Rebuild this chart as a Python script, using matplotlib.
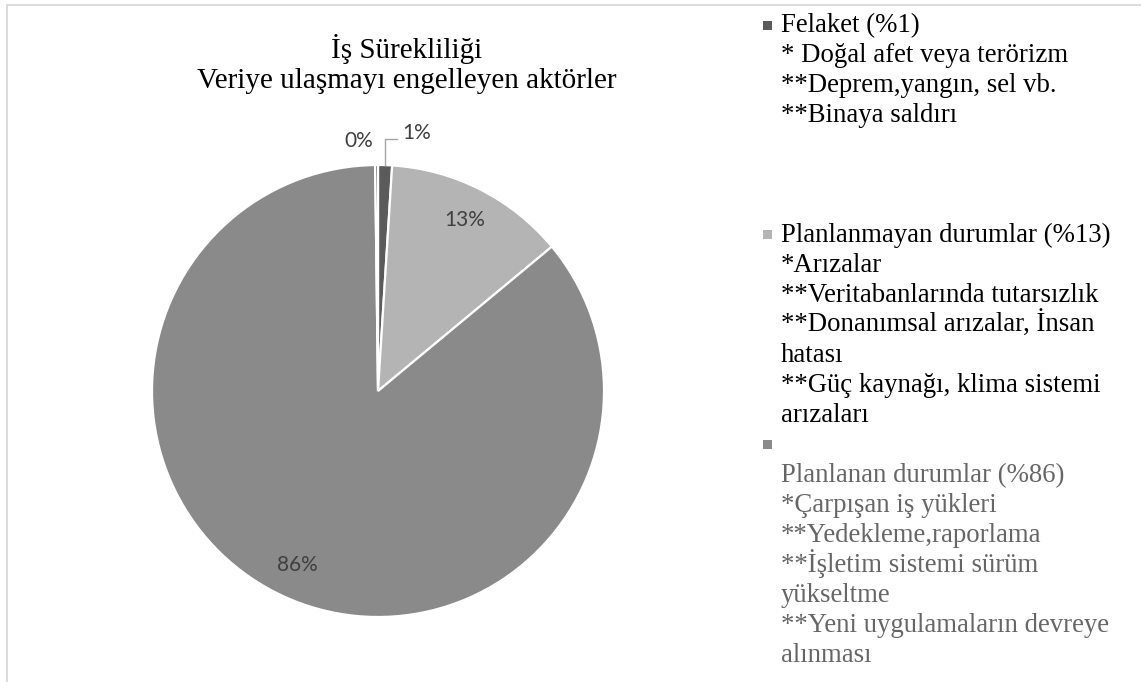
import matplotlib
matplotlib.use("Agg")
import matplotlib.pyplot as plt
import numpy as np
from matplotlib.patches import Rectangle

# data
slice_names = ["Felaket", "Planlanmayan durumlar", "Planlanan durumlar", ""]
slice_values = [1, 13, 86, 0.2]
slice_colors = ["#5b5b5b", "#b4b4b4", "#8a8a8a", "#404040"]

title_lines = ["İş Sürekliliği", "Veriye ulaşmayı engelleyen aktörler"]

legend_lines = [
    ["Felaket (%1)", "* Doğal afet veya terörizm", "**Deprem,yangın, sel vb.",
     "**Binaya saldırı"],
    ["Planlanmayan durumlar (%13)", "*Arızalar", "**Veritabanlarında tutarsızlık",
     "**Donanımsal arızalar, İnsan", "hatası", "**Güç kaynağı, klima sistemi",
     "arızaları"],
    ["", "Planlanan durumlar (%86)", "*Çarpışan iş yükleri", "**Yedekleme,raporlama",
     "**İşletim sistemi sürüm", "yükseltme", "**Yeni uygulamaların devreye",
     "alınması"],
]
legend_text_colors = ["#000000", "#000000", "#666666"]
legend_marker_colors = ["#5b5b5b", "#b4b4b4", "#8a8a8a"]

W, H = 1141, 682
fx = lambda px: px / W
fy = lambda py: 1 - py / H

fig = plt.figure(figsize=(W / 100, H / 100), dpi=100)

# chart border (only top and left visible)
fig.add_artist(Rectangle((fx(6.8), -0.1), 1.2, fy(4.8) + 0.1, fill=False,
                         edgecolor="#d9d9d9", lw=1.3, transform=fig.transFigure))

# pie
cx, cy, r = 378, 391, 226
ax = fig.add_axes([fx(cx - r), fy(cy + r), 2 * r / W, 2 * r / H])
wedges, texts, autotexts = ax.pie(
    slice_values, colors=slice_colors, startangle=90, counterclock=False,
    autopct="%.0f%%", pctdistance=0.85,
    wedgeprops=dict(edgecolor="white", linewidth=1.6),
    textprops=dict(family="Lato", fontsize=15, color="#404040"))
ax.set_xlim(-1, 1)
ax.set_ylim(-1, 1)
ax.set_aspect("equal")

# small slice labels outside, 1% with leader line
autotexts[0].set_position((0.106, 1.142))
autotexts[0].set_ha("left")
autotexts[0].set_va("center")
autotexts[3].set_position((-0.084, 1.106))
autotexts[3].set_va("center")

w0 = wedges[0]
mid = np.deg2rad((w0.theta1 + w0.theta2) / 2)
lx, ly = np.cos(mid), np.sin(mid)
ax.plot([lx, lx, 0.084], [ly, 1.115, 1.115], color="#a6a6a6", lw=1.0,
        clip_on=False)

# title
fig.text(fx(407), fy(57.5), title_lines[0], family="Liberation Serif",
         fontsize=21, ha="center", va="baseline", color="#000000")
fig.text(fx(407), fy(88.5), title_lines[1], family="Liberation Serif",
         fontsize=21, ha="center", va="baseline", color="#000000")

# legend
baselines = [32.5, 242, 452]
step = 30
for lines, b0, tc, mc in zip(legend_lines, baselines, legend_text_colors,
                             legend_marker_colors):
    fig.add_artist(Rectangle((fx(763), fy(b0 - 3)), 9 / W, 9 / H,
                             facecolor=mc, edgecolor="none",
                             transform=fig.transFigure))
    for i, line in enumerate(lines):
        fig.text(fx(781), fy(b0 + i * step), line,
                 family="Liberation Serif", fontsize=19.3, color=tc,
                 ha="left", va="baseline")

fig.savefig("out.png", dpi=100)
